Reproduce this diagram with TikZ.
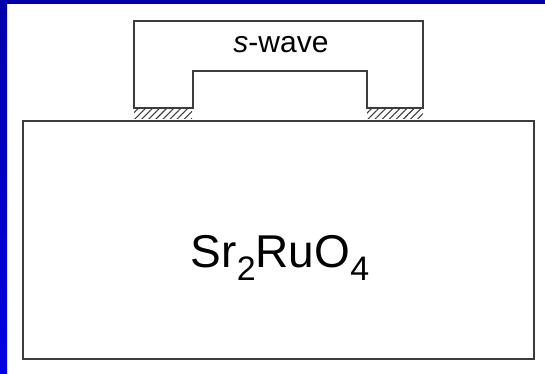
\documentclass[tikz,border=0pt]{standalone}
\usepackage{fontspec}
\setmainfont{Liberation Sans}
\usepackage{tikz}
\usetikzlibrary{patterns.meta}
\definecolor{slidetop}{RGB}{0,0,170}
\definecolor{slideside}{RGB}{0,0,228}
\definecolor{linegray}{RGB}{60,60,60}
\newcommand{\chemsub}[1]{\raisebox{-13pt}{\fontsize{34}{34}\selectfont #1}}
\tikzset{
  samplebox/.style={draw=linegray, line width=1.7pt},
  contact/.style={pattern={Lines[angle=45, distance=5pt, line width=1.1pt]}, pattern color=linegray},
  lbl/.style={inner sep=0pt, anchor=base},
}

\begin{document}
\begin{tikzpicture}[x=1pt, y=1pt]
  \useasboundingbox (0,0) rectangle (545,374);
  % slide frame
  \fill[slidetop] (0,370) rectangle (545,374);
  \shade[top color=slidetop, bottom color=slideside] (0,0) rectangle (7,374);
  % Sr2RuO4 crystal
  \draw[samplebox] (23,15) rectangle (534,253);
  % s-wave electrode with two feet
  \draw[samplebox] (134,266) -- (134,353) -- (423,353) -- (423,266) -- (367,266)
    -- (367,303) -- (193,303) -- (193,266) -- cycle;
  % contact layers under the feet
  \fill[contact] (134,255) rectangle (192,264);
  \fill[contact] (367,255) rectangle (423,264);
  \node[lbl] (swave) at (281,321) {\fontsize{30}{30}\selectfont\textit{s}-wave};
  \node[lbl] (srruo) at (280,106) {\fontsize{46}{46}\selectfont Sr\chemsub{2}RuO\chemsub{4}};
\end{tikzpicture}
\end{document}
